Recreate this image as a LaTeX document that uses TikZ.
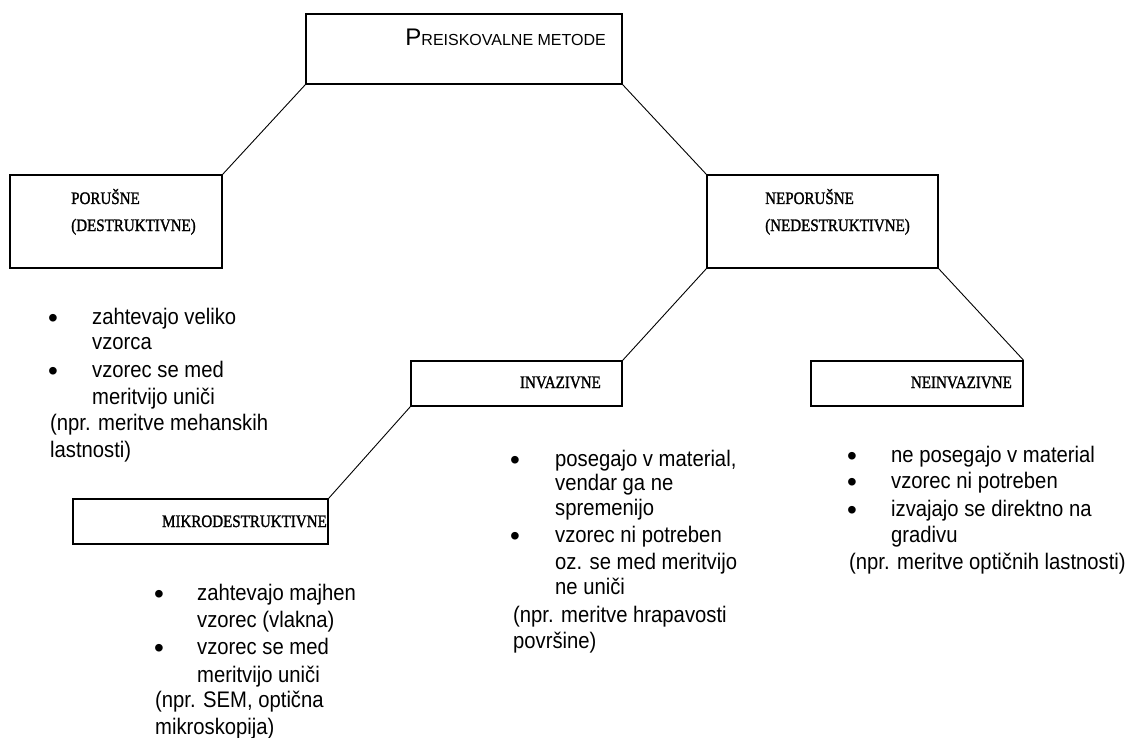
\documentclass[tikz,border=0pt]{standalone}
\usepackage{fontspec}
\setmainfont{Liberation Sans}
\newfontfamily\bodyfont[FakeStretch=0.9]{Liberation Sans}
\newfontfamily\boxfont[FakeStretch=0.86,FakeBold=1.5]{Liberation Serif}
\begin{document}
\begin{tikzpicture}[x=1pt,y=-1pt,
  box/.style={draw=black, line width=1.3pt, minimum width=#1, inner sep=0pt},
  conn/.style={draw=black, line width=0.9pt},
  lbl/.style={font=\boxfont\fontsize{17.5}{19}\selectfont, inner sep=0pt},
  txt/.style={font=\bodyfont\fontsize{22.5}{25}\selectfont, inner sep=0pt, anchor=base west},
  bul/.style={font=\fontsize{28}{30}\selectfont, inner sep=0pt, anchor=base}]
\useasboundingbox[fill=white] (0,0) rectangle (1137,738);

% boxes
\node[box=316pt, minimum height=70pt] (top) at (464,49) {};
\node[box=212pt, minimum height=93pt] (por) at (116,221.5) {};
\node[box=231pt, minimum height=93pt] (nep) at (822.5,221.5) {};
\node[box=211pt, minimum height=45pt] (inv) at (516.5,383.5) {};
\node[box=212pt, minimum height=45pt] (ninv) at (917,383.5) {};
\node[box=255pt, minimum height=45pt] (mik) at (200.5,521.5) {};

% connectors
\draw[conn] (top.south west) -- (por.north east);
\draw[conn] (top.south east) -- (nep.north west);
\draw[conn] (nep.south west) -- (inv.north east);
\draw[conn] (nep.south east) -- (ninv.north east);
\draw[conn] (inv.south west) -- (mik.north east);

% box labels
\node[inner sep=0pt, anchor=base east] (ttop) at (606,46)
  {{\fontsize{24}{26}\selectfont P}{\fontsize{16}{18}\selectfont REISKOVALNE METODE}};
\node[lbl, anchor=base west] (tpor1) at (71,204) {PORUŠNE};
\node[lbl, anchor=base west] (tpor2) at (71,231) {(DESTRUKTIVNE)};
\node[lbl, anchor=base west] (tnep1) at (765,204) {NEPORUŠNE};
\node[lbl, anchor=base west] (tnep2) at (765,231) {(NEDESTRUKTIVNE)};
\node[lbl, anchor=base east] (tinv) at (601,388) {INVAZIVNE};
\node[lbl, anchor=base east] (tninv) at (1012,388) {NEINVAZIVNE};
\node[lbl, anchor=base east] (tmik) at (327,527) {MIKRODESTRUKTIVNE};

% block 1 (porušne)
\node[bul] (b1a) at (53,327) {•};
\node[txt] (l1a) at (92,324) {zahtevajo veliko};
\node[txt] (l1b) at (92,349) {vzorca};
\node[bul] (b1b) at (53,380) {•};
\node[txt] (l1c) at (92,377) {vzorec se med};
\node[txt] (l1d) at (92,404) {meritvijo uniči};
\node[txt] (l1e) at (50,430) {(npr. meritve mehanskih};
\node[txt] (l1f) at (50,457) {lastnosti)};

% block 2 (invazivne)
\node[bul] (b2a) at (515,469) {•};
\node[txt] (l2a) at (555,466) {posegajo v material,};
\node[txt] (l2b) at (555,490) {vendar ga ne};
\node[txt] (l2c) at (555,515) {spremenijo};
\node[bul] (b2b) at (515,545) {•};
\node[txt] (l2d) at (555,542) {vzorec ni potreben};
\node[txt] (l2e) at (555,569) {oz. se med meritvijo};
\node[txt] (l2f) at (555,594) {ne uniči};
\node[txt] (l2g) at (513,622) {(npr. meritve hrapavosti};
\node[txt] (l2h) at (513,648) {površine)};

% block 3 (neinvazivne)
\node[bul] (b3a) at (852,465) {•};
\node[txt] (l3a) at (891,462) {ne posegajo v material};
\node[bul] (b3b) at (852,491) {•};
\node[txt] (l3b) at (891,488) {vzorec ni potreben};
\node[bul] (b3c) at (852,519) {•};
\node[txt] (l3c) at (891,516) {izvajajo se direktno na};
\node[txt] (l3d) at (891,542) {gradivu};
\node[txt] (l3e) at (849,569) {(npr. meritve optičnih lastnosti)};

% block 4 (mikrodestruktivne)
\node[bul] (b4a) at (159,603) {•};
\node[txt] (l4a) at (197,600) {zahtevajo majhen};
\node[txt] (l4b) at (197,627) {vzorec (vlakna)};
\node[bul] (b4b) at (159,657) {•};
\node[txt] (l4c) at (197,654) {vzorec se med};
\node[txt] (l4d) at (197,682) {meritvijo uniči};
\node[txt] (l4e) at (155,707) {(npr. SEM, optična};
\node[txt] (l4f) at (155,734) {mikroskopija)};
\end{tikzpicture}
\end{document}
